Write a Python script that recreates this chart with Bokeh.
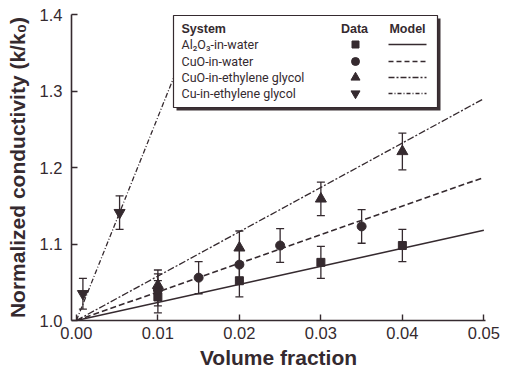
from bokeh.plotting import figure
from bokeh.models import ColumnDataSource, Whisker, TeeHead, FixedTicker, NumeralTickFormatter
from bokeh.core.properties import value
from bokeh.embed import file_html
from bokeh.resources import INLINE

# ---- data ----
al_x = [0.01, 0.02, 0.03, 0.04]
al_y = [1.031, 1.052, 1.076, 1.098]
al_e = [0.021, 0.021, 0.021, 0.021]

cuow_x = [0.01, 0.015, 0.02, 0.025, 0.035]
cuow_y = [1.040, 1.056, 1.073, 1.098, 1.123]
cuow_e = [0.021, 0.021, 0.021, 0.022, 0.022]

cuoeg_x = [0.01, 0.02, 0.03, 0.04]
cuoeg_y = [1.046, 1.095, 1.159, 1.221]
cuoeg_e = [0.020, 0.022, 0.022, 0.024]

cueg_x = [0.0008, 0.0053]
cueg_y = [1.035, 1.141]
cueg_e = [0.020, 0.022]

# model lines (start, end)
al_model_x = [0.0, 0.05];    al_model_y = [1.0, 1.118]
cuow_model_x = [0.0, 0.05];  cuow_model_y = [1.0, 1.187]
cuoeg_model_x = [0.0, 0.05]; cuoeg_model_y = [1.0, 1.290]
cueg_model_x = [0.0, 0.015]; cueg_model_y = [1.0, 1.399]

x_ticks = [0.0, 0.01, 0.02, 0.03, 0.04, 0.05]
y_ticks = [1.0, 1.1, 1.2, 1.3, 1.4]

systems = ["Al\u2082O\u2083-in-water", "CuO-in-water", "CuO-in-ethylene glycol", "Cu-in-ethylene glycol"]
x_title = "Volume fraction"
y_title = "Normalized conductivity (k/k\u2080)"

INK = "#352a2f"
FONT = "Liberation Sans"
LEGFONT = "Roboto"

X0, X1 = -0.0006, 0.0502
Y0, Y1 = 1.0, 1.4
OFF = 2
W, H = 501, 375
ML, MT = 71, 14
FW, FH = 414, 306
MR, MB = W - ML - FW, H - MT - FH

p = figure(width=W, height=H, x_range=(X0, X1), y_range=(Y0, Y1),
           output_backend="svg", toolbar_location=None,
           min_border_left=ML, min_border_right=MR, min_border_top=MT, min_border_bottom=MB)
p.outline_line_color = None
p.grid.visible = False
p.background_fill_color = "white"

for ax in (p.xaxis[0], p.yaxis[0]):
    ax.axis_line_color = INK
    ax.axis_line_width = 1.6
    ax.major_tick_line_color = INK
    ax.major_tick_line_width = 1.4
    ax.major_tick_in = 6
    ax.major_tick_out = 0
    ax.minor_tick_line_color = None
    ax.major_label_text_font = FONT
    ax.major_label_text_font_size = "16.5px"
    ax.major_label_text_color = INK
    ax.axis_label_text_font = FONT
    ax.axis_label_text_font_style = "bold"
    ax.axis_label_text_color = INK

p.xaxis.ticker = FixedTicker(ticks=x_ticks)
p.yaxis.ticker = FixedTicker(ticks=y_ticks)
p.xaxis.formatter = NumeralTickFormatter(format="0.00")
p.yaxis.formatter = NumeralTickFormatter(format="0.0")
p.xaxis.major_label_standoff = 6
p.yaxis.major_label_standoff = 9
p.xaxis.axis_label = x_title
p.yaxis.axis_label = y_title
p.xaxis.axis_label_text_font_size = "21px"
p.yaxis.axis_label_text_font_size = "21px"
p.xaxis.axis_label_standoff = 4
p.yaxis.axis_label_standoff = 8


def dx(px):
    return X0 + (px - (ML + OFF)) / FW * (X1 - X0)


def dy(py):
    return Y0 + ((MT + OFF + FH) - py) / FH * (Y1 - Y0)


# model lines
p.line(al_model_x, al_model_y, line_color=INK, line_width=1.5)
p.line(cuow_model_x, cuow_model_y, line_color=INK, line_width=1.6, line_dash="6 3")
p.line(cuoeg_model_x, cuoeg_model_y, line_color=INK, line_width=1.3, line_dash="7 2 2 2")
p.line(cueg_model_x, cueg_model_y, line_color=INK, line_width=1.3, line_dash="5 2 1 2")


# error bars + markers
def series(xs, ys, es, marker, size):
    src = ColumnDataSource(dict(x=xs, y=ys, lo=[a - b for a, b in zip(ys, es)],
                                hi=[a + b for a, b in zip(ys, es)]))
    w = Whisker(source=src, base="x", upper="hi", lower="lo", dimension="height",
                line_color=INK, line_width=1.3,
                upper_head=TeeHead(size=8, line_color=INK, line_width=1.3),
                lower_head=TeeHead(size=8, line_color=INK, line_width=1.3))
    p.add_layout(w)
    p.scatter("x", "y", source=src, marker=marker, size=size, fill_color=INK, line_color=INK)


series(al_x, al_y, al_e, "square", 8)
series(cuow_x, cuow_y, cuow_e, "circle", 9)
series(cuoeg_x, cuoeg_y, cuoeg_e, "triangle", 11)
series(cueg_x, cueg_y, cueg_e, "inverted_triangle", 11)

# ---- custom legend (drawn as glyphs after the lines so it covers them) ----
bl, br, bt, bb = 175, 439, 17, 109
p.quad(left=[dx(bl + 3)], right=[dx(br + 3)], top=[dy(bt + 3)], bottom=[dy(bb + 3)],
       fill_color="#3d3236", line_color=None)
p.quad(left=[dx(bl)], right=[dx(br)], top=[dy(bt)], bottom=[dy(bb)],
       fill_color="white", line_color=INK, line_width=1.2)

row_y = [46, 63, 79, 95]
p.text([dx(183)], [dy(30)], text=["System"], text_font=value(FONT), text_font_style="bold",
       text_font_size="12.5px", text_color=INK, text_baseline="middle")
p.text([dx(356)], [dy(30)], text=["Data"], text_font=value(FONT), text_font_style="bold",
       text_font_size="12.5px", text_color=INK, text_baseline="middle", text_align="center")
p.text([dx(409)], [dy(30)], text=["Model"], text_font=value(FONT), text_font_style="bold",
       text_font_size="12.5px", text_color=INK, text_baseline="middle", text_align="center")
p.text([dx(183)] * 4, [dy(r) for r in row_y], text=systems, text_font=value(LEGFONT),
       text_font_size="12.5px", text_color=INK, text_baseline="middle")

markers = ["square", "circle", "triangle", "inverted_triangle"]
msizes = [7, 8, 9, 9]
for r, m, s in zip(row_y, markers, msizes):
    p.scatter([dx(357)], [dy(r)], marker=m, size=s, fill_color=INK, line_color=INK)

dashes = ["solid", "5 3", "6 2 2 2", "4 2 1 2"]
for r, d in zip(row_y, dashes):
    p.line([dx(390), dx(428)], [dy(r), dy(r)], line_color=INK, line_width=1.4, line_dash=d)

open("out.html", "w").write(file_html(p, INLINE))
